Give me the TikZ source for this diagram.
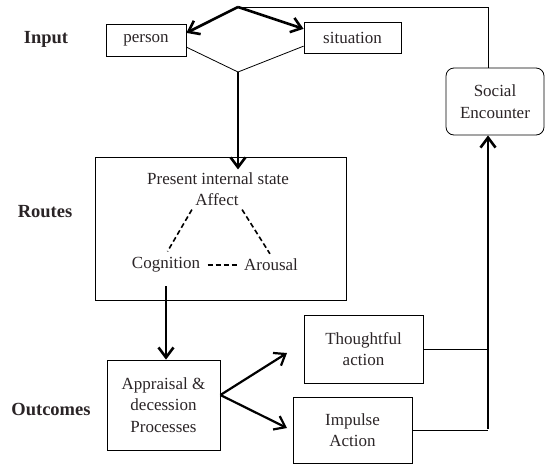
\documentclass[tikz,border=0pt]{standalone}
\usepackage{fontspec}
\setmainfont{Liberation Serif}
\usetikzlibrary{arrows.meta}
\definecolor{ink}{RGB}{42,36,38}
\begin{document}
\begin{tikzpicture}[x=1pt, y=-1pt, font=\fontsize{17}{21.5}\selectfont, text=ink,
    box/.style={draw, line width=0.8pt, align=center, inner sep=0pt},
    lbl/.style={font=\fontsize{18.5}{22}\selectfont\bfseries},
    link/.style={line width=0.8pt},
    flow/.style={line width=2.6pt, -{Straight Barb[length=10pt,width=15pt]}},
    tie/.style={line width=1.6pt, dash pattern=on 5pt off 3pt}]
  \useasboundingbox (0,0) rectangle (545,464);
  % row labels
  \node[lbl] (input) at (46,39) {Input};
  \node[lbl] (routeslbl) at (45,212) {Routes};
  \node[lbl] (outcomes) at (51,409) {Outcomes};

  % input
  \node[box, minimum width=80, minimum height=32] (person) at (146,40) {person};
  \node[box, minimum width=97, minimum height=31] (situation) at (352.5,37.5) {situation};
  \coordinate (top) at (238,7); \coordinate (join) at (238,72);
  \draw[flow] (top) -- (person.10);
  \draw[flow] (top) -- (situation.170);
  \draw[link] (person.-10) -- (join) -- (situation.190);

  % routes
  \node[box, minimum width=251, minimum height=143] (routes) at (220.5,228.5) {};
  \node (state) at (218,179) {Present internal state};
  \node (affect) at (217,200) {Affect};
  \node (cog) at (166,265) {Cognition};
  \node (arousal) at (271,265) {Arousal};
  \draw[flow] (join) -- (join |- state.north);
  \draw[tie, shorten >=3pt] (affect.south west) -- (cog.north);
  \draw[tie, shorten >=2pt] (affect.south east) -- (arousal.north);
  \draw[tie, shorten <=4pt, shorten >=4pt] (cog.east) -- (arousal.west);

  % outcomes
  \node[box, minimum width=113, minimum height=90] (appraisal) at (163.5,405) {Appraisal \&\\decession\\Processes};
  \node[box, minimum width=119, minimum height=68] (thought) at (363.5,349) {Thoughtful\\action};
  \node[box, minimum width=119, minimum height=66] (impulse) at (352.5,430) {Impulse\\Action};
  \node[box, rounded corners=8pt, minimum width=98, minimum height=67] (social) at (495,101.5) {Social\\Encounter};
  \draw[flow, shorten <=10pt] (cog.south) -- (cog.south |- appraisal.north);
  \coordinate (fork) at ([yshift=10pt]appraisal.east);
  \coordinate (up) at (287,353); \coordinate (down) at (287,428);
  \foreach \t in {up,down} \draw[flow, line width=2.2pt] (fork) -- (\t);

  % back to the encounter
  \coordinate (rail) at (488,429);
  \draw[link] (top) -| (rail |- social.north);
  \foreach \b in {thought,impulse} \draw[link] (\b.east) -- (\b.east -| rail);
  \draw[flow] (rail) -- (rail |- social.south);
\end{tikzpicture}
\end{document}
